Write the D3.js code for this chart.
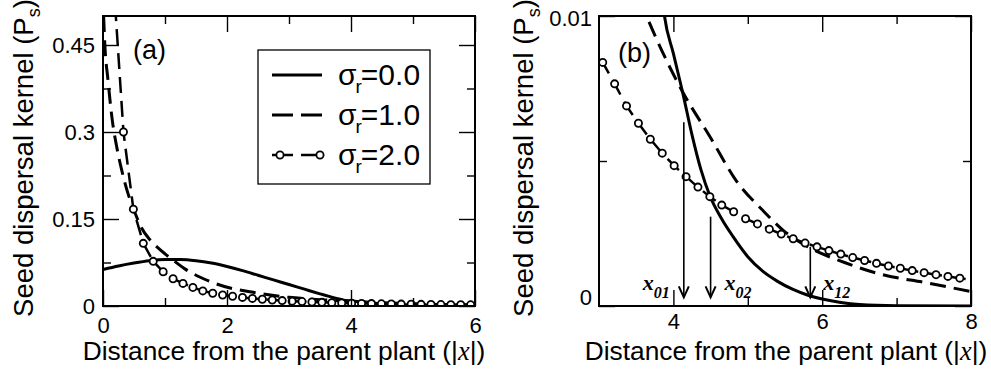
<!DOCTYPE html>
<html>
<head>
<meta charset="utf-8">
<script src="https://cdn.jsdelivr.net/npm/d3@7"></script>
<style>
  body { margin: 0; background: #fff; }
  svg { display: block; }
</style>
</head>
<body>
<div id="chart"></div>
<script>
// sigma_r = 0.0 (solid)
const solidDist   = [0, 0.25, 0.5, 0.75, 1.0, 1.25, 1.5, 1.75, 2.0, 2.25, 2.5, 2.75, 3.0, 3.25, 3.5, 3.75, 3.88, 4.0, 4.13, 4.25, 4.37, 4.49, 4.65, 4.8, 5.0, 5.2, 5.4, 5.6, 5.8, 6.0, 6.25, 6.5, 7.0, 8.0];
const solidKernel = [0.063, 0.069, 0.074, 0.078, 0.080, 0.080, 0.078, 0.074, 0.068, 0.061, 0.053, 0.045, 0.037, 0.029, 0.021, 0.0135, 0.0100, 0.0087, 0.0073, 0.0059, 0.0047, 0.0038, 0.0030, 0.0024, 0.0017, 0.0012, 0.00085, 0.00058, 0.00038, 0.00024, 0.00012, 0.00005, 0.00001, 0];

// sigma_r = 1.0 (dashed)
const dashDist   = [0.01, 0.03, 0.08, 0.15, 0.22, 0.3, 0.4, 0.5, 0.62, 0.75, 0.87, 1.0, 1.13, 1.32, 1.56, 1.78, 2.05, 2.4, 2.7, 3.0, 3.3, 3.64, 4.11, 4.5, 4.85, 5.2, 5.48, 5.84, 6.3, 6.78, 7.4, 8.0];
const dashKernel = [0.50, 0.45, 0.39, 0.32, 0.275, 0.235, 0.195, 0.165, 0.135, 0.115, 0.102, 0.090, 0.079, 0.064, 0.050, 0.040, 0.031, 0.024, 0.019, 0.015, 0.0123, 0.0100, 0.00745, 0.0058, 0.0043, 0.0033, 0.0026, 0.0020, 0.0015, 0.0011, 0.0008, 0.0005];

// sigma_r = 2.0 (dashed with circles)
const circDist   = [0.17, 0.33, 0.49, 0.65, 0.81, 0.97, 1.13, 1.29, 1.45, 1.61, 1.77, 1.93, 2.09, 2.25, 2.41, 2.57, 2.73, 2.89, 3.05, 3.21, 3.37, 3.53, 3.69, 3.85, 4.01, 4.17, 4.33, 4.49, 4.65, 4.81, 4.97, 5.13, 5.29, 5.45, 5.61, 5.77, 5.93, 6.09, 6.25, 6.41, 6.57, 6.73, 6.89, 7.05, 7.21, 7.37, 7.53, 7.69, 7.85, 8.01];
const circKernel = [0.56, 0.30, 0.167, 0.108, 0.077, 0.059, 0.047, 0.039, 0.032, 0.026, 0.022, 0.019, 0.0168, 0.0148, 0.0131, 0.0117, 0.0104, 0.0093, 0.0084, 0.00766, 0.0069, 0.0063, 0.00575, 0.00527, 0.00484, 0.00446, 0.0041, 0.00377, 0.00348, 0.00325, 0.00301, 0.00283, 0.00265, 0.00248, 0.00232, 0.00217, 0.00204, 0.00191, 0.00179, 0.00167, 0.00157, 0.00147, 0.00138, 0.0013, 0.00122, 0.00115, 0.00108, 0.00102, 0.00096, 0.0009];

const legendValues = ['0.0', '1.0', '2.0'];

// crossing arrows in panel (b)
const arrowDist = [4.14, 4.50, 5.84];
const arrowFrom = [0.00634, 0.00308, 0.00204];
const arrowTo   = 0.0003;
const arrowSubs = ['01', '02', '12'];

const xMajorA = [0, 2, 4, 6],  xLabelsA = ['0', '2', '4', '6'], xMinorA = [1, 3, 5];
const yMajorA = [0, 0.15, 0.3, 0.45], yLabelsA = ['0', '0.15', '0.3', '0.45'], yMinorA = [0.075, 0.225, 0.375];
const xMajorB = [4, 6, 8],  xLabelsB = ['4', '6', '8'], xMinorB = [5, 7];
const yMajorB = [0, 0.01], yLabelsB = ['0', '0.01'], yMinorB = [0.005];

const W = 991, H = 369;
const plotTop = 16, plotBottom = 306;
const sans = '"Liberation Sans", Arial, sans-serif';
const serif = '"Liberation Serif", "Times New Roman", serif';

const svg = d3.select('#chart').append('svg')
  .attr('width', W)
  .attr('height', H);

const toPts = (xs, ys) => xs.map((d, i) => ({x: d, y: ys[i]}));
const solidPts = toPts(solidDist, solidKernel);
const dashPts = toPts(dashDist, dashKernel);
const circPts = toPts(circDist, circKernel);

function drawPanel(cfg) {
  const x = d3.scaleLinear().domain(cfg.xDomain).range([cfg.left, cfg.right]);
  const y = d3.scaleLinear().domain(cfg.yDomain).range([plotBottom, plotTop]);

  svg.append('clipPath').attr('id', 'clip-' + cfg.id)
    .append('rect')
    .attr('x', cfg.left).attr('y', plotTop)
    .attr('width', cfg.right - cfg.left).attr('height', plotBottom - plotTop);

  const line = d3.line()
    .x(d => x(d.x))
    .y(d => y(d.y))
    .curve(d3.curveMonotoneX);

  const plot = svg.append('g').attr('clip-path', 'url(#clip-' + cfg.id + ')');

  plot.append('path')
    .attr('d', line(solidPts))
    .attr('fill', 'none')
    .attr('stroke', '#000')
    .attr('stroke-width', 3);

  plot.append('path')
    .attr('d', line(dashPts))
    .attr('fill', 'none')
    .attr('stroke', '#000')
    .attr('stroke-width', 3)
    .attr('stroke-dasharray', '16,8');

  plot.append('path')
    .attr('d', d3.line().x(d => x(d.x)).y(d => y(d.y))(circPts))
    .attr('fill', 'none')
    .attr('stroke', '#000')
    .attr('stroke-width', 2.5)
    .attr('stroke-dasharray', '16,8');

  plot.selectAll('circle.pt')
    .data(circPts.filter(d => d.x <= cfg.xDomain[1] && d.y <= cfg.yDomain[1]))
    .enter().append('circle')
    .attr('class', 'pt')
    .attr('cx', d => x(d.x))
    .attr('cy', d => y(d.y))
    .attr('r', 3.6)
    .attr('fill', '#fff')
    .attr('stroke', '#000')
    .attr('stroke-width', 1.8);

  // ticks all round, pointing inwards
  const axes = svg.append('g')
    .style('font-family', sans)
    .style('font-size', '22px');

  function addAxis(axis, tx, ty) {
    const g = axes.append('g')
      .attr('transform', `translate(${tx},${ty})`)
      .call(axis);
    g.attr('font-size', null).attr('font-family', null);
    g.select('.domain').remove();
    g.selectAll('.tick line').attr('stroke', '#000').attr('stroke-width', 1.4);
    g.selectAll('.tick text').attr('fill', '#000');
    return g;
  }

  addAxis(d3.axisBottom(x).tickValues(cfg.xMajor).tickSize(-16).tickPadding(cfg.xPad)
    .tickFormat((d, i) => cfg.xLabels[i]), 0, plotBottom);
  addAxis(d3.axisBottom(x).tickValues(cfg.xMinor).tickSize(-8).tickFormat(''), 0, plotBottom);
  addAxis(d3.axisTop(x).tickValues(cfg.xMajor).tickSize(-16).tickFormat(''), 0, plotTop);
  addAxis(d3.axisTop(x).tickValues(cfg.xMinor).tickSize(-8).tickFormat(''), 0, plotTop);

  const yl = addAxis(d3.axisLeft(y).tickValues(cfg.yMajor).tickSize(-16).tickPadding(cfg.yPad)
    .tickFormat((d, i) => cfg.yLabels[i]), cfg.left, 0);
  yl.selectAll('.tick text').attr('y', (d, i) => cfg.yShift[i]);
  addAxis(d3.axisLeft(y).tickValues(cfg.yMinor).tickSize(-8).tickFormat(''), cfg.left, 0);
  addAxis(d3.axisRight(y).tickValues(cfg.yMajor).tickSize(-16).tickFormat(''), cfg.right, 0);
  addAxis(d3.axisRight(y).tickValues(cfg.yMinor).tickSize(-8).tickFormat(''), cfg.right, 0);

  // frame
  svg.append('rect')
    .attr('x', cfg.left).attr('y', plotTop)
    .attr('width', cfg.right - cfg.left).attr('height', plotBottom - plotTop)
    .attr('fill', 'none')
    .attr('stroke', '#000')
    .attr('stroke-width', 2);

  // panel letter
  svg.append('text')
    .attr('x', cfg.left + cfg.tagDx)
    .attr('y', cfg.tagY)
    .style('font-family', sans)
    .style('font-size', '27px')
    .text(cfg.tag);

  // axis titles
  const xt = svg.append('text')
    .attr('x', cfg.xTitleX)
    .attr('y', 360)
    .attr('text-anchor', 'middle')
    .style('font-family', sans)
    .style('font-size', '26.3px');
  xt.append('tspan').text('Distance from the parent plant (|');
  xt.append('tspan').style('font-family', serif).style('font-style', 'italic').text('x');
  xt.append('tspan').text('|)');

  const yt = svg.append('text')
    .attr('transform', `translate(${cfg.yTitleX},158) rotate(-90)`)
    .attr('text-anchor', 'middle')
    .style('font-family', sans)
    .style('font-size', '27.5px');
  yt.append('tspan').text('Seed dispersal kernel (P');
  yt.append('tspan').attr('dy', 7).style('font-size', '18px').text('s');
  yt.append('tspan').attr('dy', -7).text(')');

  return {x, y};
}

const panelA = drawPanel({
  id: 'a', tag: '(a)', tagDx: 30, tagY: 59,
  left: 103, right: 475, xDomain: [0, 6], yDomain: [0, 0.5],
  xMajor: xMajorA, xLabels: xLabelsA, xMinor: xMinorA,
  yMajor: yMajorA, yLabels: yLabelsA, yMinor: yMinorA,
  xPad: 11, yPad: 8, yShift: [0, 0, 0, 0], yTitleX: 33, xTitleX: 284
});

const panelB = drawPanel({
  id: 'b', tag: '(b)', tagDx: 19, tagY: 62,
  left: 599, right: 971, xDomain: [3, 8], yDomain: [0, 0.01],
  xMajor: xMajorB, xLabels: xLabelsB, xMinor: xMinorB,
  yMajor: yMajorB, yLabels: yLabelsB, yMinor: yMinorB,
  xPad: 7, yPad: 7, yShift: [-9, 2], yTitleX: 533, xTitleX: 786
});

// legend in panel (a)
const legend = svg.append('g');
legend.append('rect')
  .attr('x', 258).attr('y', 50)
  .attr('width', 172).attr('height', 134)
  .attr('fill', '#fff')
  .attr('stroke', '#000')
  .attr('stroke-width', 1.3);

const rows = legend.selectAll('g.row')
  .data(legendValues)
  .enter().append('g')
  .attr('class', 'row')
  .attr('transform', (d, i) => `translate(0,${75 + i * 40})`);

rows.append('line')
  .attr('x1', 272).attr('x2', 322)
  .attr('stroke', '#000')
  .attr('stroke-width', (d, i) => i === 2 ? 2.5 : 3)
  .attr('stroke-dasharray', (d, i) => i === 0 ? null : '21,8');

rows.filter((d, i) => i === 2).selectAll('circle')
  .data([280, 320])
  .enter().append('circle')
  .attr('cx', d => d)
  .attr('r', 3.6)
  .attr('fill', '#fff')
  .attr('stroke', '#000')
  .attr('stroke-width', 1.8);

const lt = rows.append('text')
  .attr('x', 338)
  .attr('y', 10)
  .style('font-family', sans)
  .style('font-size', '30px');
lt.append('tspan').text('σ');
lt.append('tspan').attr('dy', 8).attr('dx', -1).style('font-size', '19px').text('r');
lt.append('tspan').attr('dy', -8).attr('dx', -1).text(d => '=' + d);

// arrows and crossing labels in panel (b)
const arrows = svg.append('g');
arrowDist.forEach((d, i) => {
  const ax = panelB.x(d);
  const y0 = panelB.y(arrowFrom[i]);
  const y1 = panelB.y(arrowTo);
  arrows.append('line')
    .attr('x1', ax).attr('x2', ax)
    .attr('y1', y0).attr('y2', y1)
    .attr('stroke', '#000')
    .attr('stroke-width', 1.6);
  arrows.append('path')
    .attr('d', `M${ax - 5},${y1 - 11}L${ax},${y1}L${ax + 5},${y1 - 11}`)
    .attr('fill', 'none')
    .attr('stroke', '#000')
    .attr('stroke-width', 2);
});

const labelDx = [-41, 14, 13];
arrowDist.forEach((d, i) => {
  const t = arrows.append('text')
    .attr('x', panelB.x(d) + labelDx[i])
    .attr('y', 290)
    .style('font-family', serif)
    .style('font-style', 'italic')
    .style('font-weight', 'bold')
    .style('font-size', '22px');
  t.append('tspan').text('x');
  t.append('tspan').attr('dy', 8).style('font-size', '16px').text(arrowSubs[i]);
});
</script>
</body>
</html>
